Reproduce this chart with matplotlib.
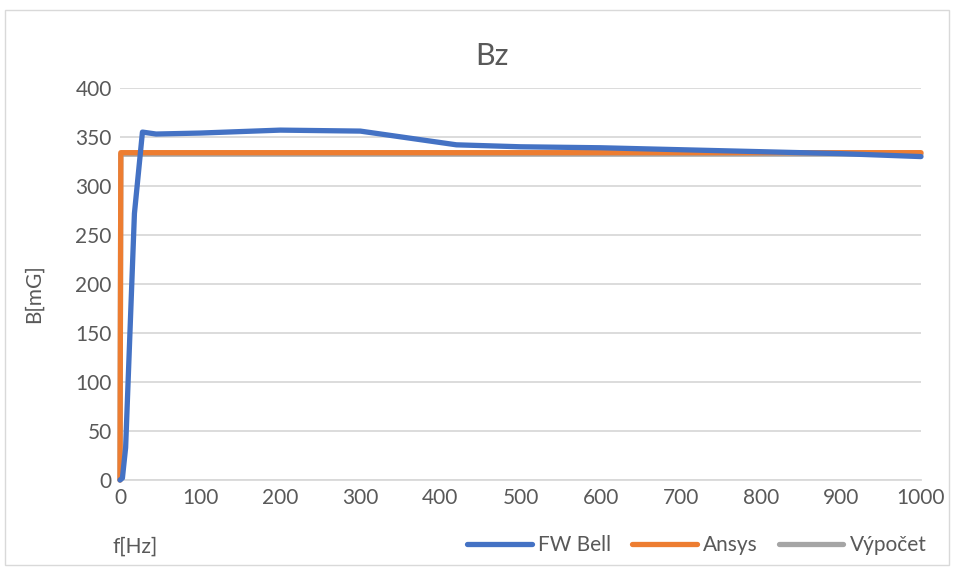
import matplotlib
matplotlib.use("Agg")
from matplotlib import pyplot as plt
from matplotlib.patches import Rectangle

# data
freq_bell = [0, 3, 7, 18, 28, 45, 100, 200, 300, 360, 420, 500, 600, 700, 800, 900, 1000]
b_bell = [0, 2, 33, 272, 355, 353, 354, 357, 356, 349, 342, 340, 339, 337, 335, 333, 330]

freq_ansys = [0, 1, 1000]
b_ansys = [0, 334, 334]

freq_calc = [0, 1, 1000]
b_calc = [0, 332.5, 332.5]

x_ticks = list(range(0, 1001, 100))
y_ticks = list(range(0, 401, 50))

plt.rcParams['font.family'] = ['Lato', 'DejaVu Sans']
text_color = '#595959'

fig = plt.figure(figsize=(9.54, 5.75), dpi=100)
fig.patches.append(Rectangle((0.005, 0.017), 0.99, 0.965, transform=fig.transFigure,
                             fill=False, edgecolor='#d9d9d9', linewidth=1.0))
ax = fig.add_axes([0.1258, 0.1652, 0.8396, 0.6818])

ax.plot(freq_calc, b_calc, color='#a5a5a5', linewidth=3.8, solid_capstyle='round', label='Výpočet', zorder=3, clip_on=False)
ax.plot(freq_ansys, b_ansys, color='#ed7d31', linewidth=3.8, solid_capstyle='round', label='Ansys', zorder=4, clip_on=False)
ax.plot(freq_bell, b_bell, color='#4472c4', linewidth=3.8, solid_capstyle='round', label='FW Bell', zorder=5, clip_on=False)

ax.set_xlim(0, 1000)
ax.set_ylim(0, 400)
ax.set_xticks(x_ticks)
ax.set_yticks(y_ticks)
ax.tick_params(length=0, labelsize=15, colors=text_color, pad=6)
ax.grid(axis='y', color='#d9d9d9', linewidth=1.3)
ax.set_axisbelow(True)
for side in ['top', 'right', 'left']:
    ax.spines[side].set_visible(False)
ax.spines['bottom'].set_color('#d9d9d9')
ax.spines['bottom'].set_linewidth(1.3)

fig.text(0.516, 0.903, 'Bz', ha='center', va='center', fontsize=22, color=text_color)
fig.text(0.035, 0.489, 'B[mG]', ha='center', va='center', rotation=90, fontsize=15, color=text_color)
fig.text(0.118, 0.049, 'f[Hz]', ha='left', va='center', fontsize=15, color=text_color)

handles, labels = ax.get_legend_handles_labels()
order = [2, 1, 0]
fig.legend([handles[i] for i in order], [labels[i] for i in order], ncol=3, frameon=False,
           loc='center right', bbox_to_anchor=(0.982, 0.052), fontsize=15, handlelength=3.1,
           columnspacing=1.0, handletextpad=0.3, labelcolor=text_color, borderpad=0)

fig.savefig('out.png', dpi=100)
